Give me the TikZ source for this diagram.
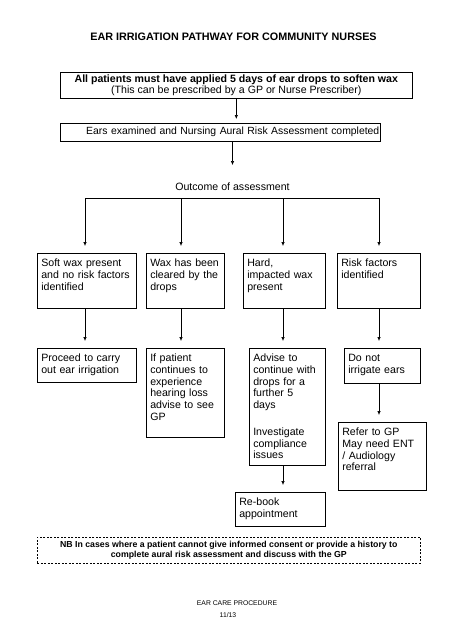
\documentclass[tikz,border=0pt]{standalone}
\usepackage{fontspec}
\setmainfont{Liberation Sans}
\usetikzlibrary{arrows.meta}

\begin{document}
\begin{tikzpicture}[x=1pt, y=-1pt,
	flowbox/.style={draw, line width=0.6pt, anchor=north west, align=left,
		inner xsep=4pt, inner ysep=3.5pt, text height=10pt,
		font=\fontsize{10.6}{11.7}\selectfont},
	widebox/.style={draw, line width=0.6pt, anchor=north west, inner sep=1pt,
		font=\fontsize{10.6}{11}\selectfont},
	arr/.style={-{Latex[length=4pt,width=3.4pt]}, line width=0.6pt, shorten >=7pt}]

\useasboundingbox (0,0) rectangle (452,640);

\path (233.5,40) node[anchor=base, font=\bfseries\fontsize{10.8}{12}\selectfont] (title) {EAR IRRIGATION PATHWAY FOR COMMUNITY NURSES};

\path (60,72) node[widebox, minimum width=352, minimum height=26, align=center] (drops)
	{\textbf{All patients must have applied 5 days of ear drops to soften wax}\\
	(This can be prescribed by a GP or Nurse Prescriber)};
\path (60,123) node[widebox, minimum height=18, text width=318, align=right, font=\fontsize{10.4}{11}\selectfont] (exam)
	{Ears examined and Nursing Aural Risk Assessment completed};
\path (232.5,190) node[anchor=base, inner sep=0pt, font=\fontsize{10.6}{11.7}\selectfont] (outcome) {Outcome of assessment};

% first row
\path (37,253) node[flowbox, text width=91, text depth=38] (soft) {Soft wax present\\and no risk factors\\identified};
\path (146,253) node[flowbox, text width=70, text depth=38] (cleared) {Wax has been\\cleared by the\\drops};
\path (243,253) node[flowbox, text width=74, text depth=38] (hard) {Hard,\\impacted wax\\present};
\path (337,253) node[flowbox, text width=75, text depth=38] (risk) {Risk factors\\identified};

% second row
\path (37,348) node[flowbox, text width=91, text depth=17] (proceed) {Proceed to carry\\out ear irrigation};
\path (146,348) node[flowbox, text width=70, text depth=72] (seegp) {If patient\\continues to\\experience\\hearing loss\\advise to see\\GP};
\path (249,348) node[flowbox, text width=68, text depth=100] (advise) {Advise to\\continue with\\drops for a\\further 5\\days\\[15pt]Investigate\\compliance\\issues};
\path (344,348) node[flowbox, text width=68, text depth=18] (donot) {Do not\\irrigate ears};
\path (338,422) node[flowbox, text width=80, text depth=51] (refer) {Refer to GP\\May need ENT\\/ Audiology\\referral};
\path (235,492) node[flowbox, text width=82, text depth=17] (rebook) {Re-book\\appointment};

\path (37,537) node[draw, line width=0.6pt, dash pattern=on 2pt off 1.5pt, anchor=north west,
	minimum width=383, minimum height=26, inner sep=1pt, align=center,
	font=\bfseries\fontsize{8.75}{10.4}\selectfont] (nb)
	{NB In cases where a patient cannot give informed consent or provide a history to\\
	complete aural risk assessment and discuss with the GP};

\path (237,605.7) node[anchor=base, inner sep=0pt, font=\fontsize{6.8}{8}\selectfont] (proc) {EAR CARE PROCEDURE};
\path (228,617) node[anchor=base, inner sep=0pt, font=\fontsize{6.8}{8}\selectfont] (page) {11/13};

% connectors
\draw[arr, shorten >=4pt] (node cs:name=drops, anchor=south) -- (drops.south |- exam.north);
\draw[arr, shorten >=17pt] (exam.south -| outcome.north) -- (outcome.north);

\coordinate (b1) at (85,198);
\coordinate (b2) at (181,198);
\coordinate (b3) at (283,198);
\coordinate (b4) at (379,198);
\draw[line width=0.6pt] (b1) -- (b4);

\draw[arr] (b1) -- (b1 |- soft.north);
\draw[arr] (b2) -- (b2 |- cleared.north);
\draw[arr] (b3) -- (b3 |- hard.north);
\draw[arr] (b4) -- (b4 |- risk.north);

\draw[arr] (soft.south -| b1) -- (b1 |- proceed.north);
\draw[arr] (cleared.south -| b2) -- (b2 |- seegp.north);
\draw[arr] (hard.south -| b3) -- (b3 |- advise.north);
\draw[arr] (risk.south -| b4) -- (b4 |- donot.north);

\draw[arr] (advise.south -| b3) -- (b3 |- rebook.north);
\draw[arr] (donot.south -| b4) -- (b4 |- refer.north);
\end{tikzpicture}
\end{document}
